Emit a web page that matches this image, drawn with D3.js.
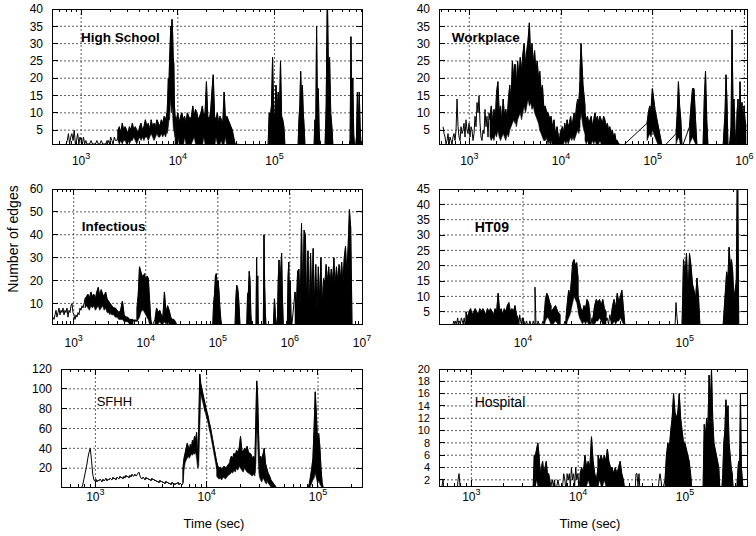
<!DOCTYPE html>
<html><head><meta charset="utf-8">
<script src="https://cdn.jsdelivr.net/npm/d3@7/dist/d3.min.js"></script>
<style>
body{margin:0;background:#fff}
svg{display:block}
text{font-family:"Liberation Sans",Arial,Helvetica,sans-serif;fill:#000}
</style>
</head><body>
<svg id="chart" width="756" height="536"></svg>
<script>
// ---------------- DATA ----------------
// Segments: [tStart (s), tEnd (s), values] for thin stretches, or
// [tStart, tEnd, upper values, lower values] for stretches where the trace is so dense it reads as a filled band.
const hsSegs = [
 [700, 1181, [1,2,4,1,3,4,2,5,1,2,4,1,3,2,1,3,1,2,1,1]],
 [1181, 1857, [1,1,2,1,1,1,2,1,1,2,1,1,1,2]],
 [1857, 2400, [1,2,1,3,2,1,3,2,2,3]],
 [2400, 7744, [5,6,4,7,5,6,5,4,6,5,7,5,6,5,4,6,7,5,6,8,6,7,5,8,6,7,6,8,7,6,8,7,9,8,10],
              [2,1,2,1,2,2,1,2,1,2,2,3,2,1,2,3,2,3,2,3,3,2,3,4,3,2,3,4,3,3,4,3,4,3,5]],
 [7744, 9367, [10,14,20,18,25,30,35,30,37,33,26,24,12,9], [4,5,6,8,8,12,14,10,12,10,6,5,4,3]],
 [9367, 39050, [9,8,10,7,9,10,8,9,7,10,9,8,9,12,9,11,10,8,9,10,12,9,10,19,9,8,10,16,21,9,8,10,7,9,8,7,16,8,9,8,7,6,5,3,1],
               [1,0,3,1,0,1,0,3,1,0,1,0,1,2,3,1,0,1,0,1,0,3,1,0,1,0,1,0,1,0,3,1,0,1,2,0,1,3,0,1,0,1,0,0,0]],
 [85660, 128400, [0,10,9,12,26,10,9,18,11,16,10,25,9,8,6,0], [0,0,1,0,1,0,1,0,1,0,1,0,1,0,0,0]],
 [175000, 206700, [0,8,12,22,14,18,10,6,0], 0],
 [256000, 295300, [0,8,6,35,12,17,5,0], 0],
 [332700, 402500, [0,12,45,22,26,10,6,0], 0],
 [603300, 802300, [0,32,10,20,4,0,0,3,16,6,16,6,0,0], 0]
];
const wpSegs = [
 [517, 1681, [6,4,3,1,2,4,1,3,2,1,3,4,2,5,14,6,3,2,6,4,5,7,3,8,5,4,7,3,6,5,2,4,9,6,13,10,15,7,3,2,5,4,11,6,9,3,10,8]],
 [1681, 3150, [9,12,7,11,8,16,19,10,12,7,14,9,11,8,14,18,13,25,20,24], [3,2,3,2,4,3,5,3,2,3,4,3,2,4,3,5,6,7,8,7]],
 [3150, 6692, [24,18,25,20,26,22,27,30,24,28,31,36,26,30,24,28,22,25,20,22,16,18,12,11],
              [8,6,8,9,10,8,10,12,10,12,14,12,13,11,12,10,9,8,7,5,4,3,2,2]],
 [6692, 9752, [12,11,10,10,9,8,9,7,6,8,5,4,6,4,3,2], [2,3,2,1,2,1,1,2,1,0,1,0,1,0,0,0]],
 [9752, 16120, [4,5,6,4,7,5,8,6,7,9,6,8,10,8,12,14,13,19], [0,1,0,1,2,1,2,1,2,3,2,3,2,3,4,5,4,6]],
 [16120, 18270, [22,30,24,18,15,12], [8,10,8,6,5,4]],
 [18270, 45100, [10,8,9,7,8,9,6,8,10,8,9,7,9,8,7,9,8,6,7,5,6,4,5,3,4,2,2,1,1,0],
                [2,1,2,1,0,1,2,1,2,1,0,1,2,1,0,1,0,1,0,1,0,0,0,0,0,0,0,0,0,0]],
 [86660, 129500, [7,10,12,11,17,14,11,9,7,5,3,1,0], [2,3,4,3,5,4,3,2,1,0,0,0,0]],
 [179600, 208700, [4,10,19,12,8,0], [1,2,3,2,0,0]],
 [251900, 304200, [6,12,17,17,8,0], [1,2,3,2,1,0]],
 [353700, 401000, [0,14,22,8,0], 0],
 [584300, 1041000, [0,5,10,21,13,0,0,2,6,34,12,14,5,0,10,14,3,19,8,13,5,12,8,6], 0]
];
const infSegs = [
 [516, 1435, [4,3,5,7,4,6,8,5,7,6,8,5,7,6,8,4,7,6,9,10,6,5,3,5,4,6,5,8,7,9,8,10,12]],
 [1435, 3190, [12,13,14,12,15,13,14,12,15,17,13,16,14,13,15,12,11,10], [8,9,8,7,9,8,9,7,8,9,7,8,9,7,8,6,6,5]],
 [3190, 6651, [10,9,8,8,7,6,7,11,5,4,4,3,3,3], [6,5,5,4,4,3,3,3,2,2,2,1,1,1]],
 [6651, 7555, [3,2,3,2,3]],
 [7555, 12210, [8,14,26,24,22,22,23,20,22,21,12,3,0], [2,3,4,6,7,7,6,5,4,3,1,0,0]],
 [13430, 27130, [3,8,6,7,5,4,15,6,9,7,4,3,3,2,0], [0,1,1,2,1,1,2,1,2,1,1,0,1,0,0]],
 [84870, 113200, [0,10,14,22,23,18,20,15,8,3,0], 0],
 [173100, 203000, [0,12,18,17,14,8,0], 0],
 [251500, 295100, [0,14,15,24,20,5,0], 0],
 [338500, 364400, [0,30,12,22,0], 0],
 [427400, 466000, [0,40,18,6,0], 0],
 [588500, 656100, [0,12,4,0], 0],
 [668800, 810000, [0,20,29,14,25,32,12,0], 0],
 [920600, 1059000, [0,22,28,10,20,5,0], 0],
 [1177000, 7270000, [15,8,24,25,6,45,12,42,40,8,33,6,32,10,34,8,27,6,26,10,30,8,21,18,27,19,26,18,25,19,30,18,26,19,27,20,28,19,30,35,22,35,51,43,0], 0]
];
const ht09Segs = [
 [3690, 4441, [1,2,1,2,1,3,1,2,1,3,2,1,3,1,2]],
 [4441, 9313, [5,3,5,6,4,5,6,5,4,6,5,6,5,4,6,5,6,5,4,6,5,11,5,6,4,6,5,7,8,5,6,5,7,4,3],
              [1,0,1,0,1,1,0,1,0,1,1,0,1,0,1,1,0,1,1,0,1,1,0,1,0,1,1,0,1,0,1,1,0,1,1]],
 [9313, 11860, [3,1,4,2,1,3,1,2,1,1,2,1,0,1,2,1,0,1,2,1,1]],
 [11860, 13490, [13,1,0,2,1,1,0,1,2,1]],
 [13490, 14900, [3,9,11,10,8,7], [0,2,3,3,2,1]],
 [14900, 16940, [5,6,7,5,4], [1,1,2,1,0]],
 [16940, 18450, [1,0,1,0,1,2,1]],
 [18450, 21890, [3,8,12,10,15,21,22,20,21,16], [0,2,3,4,6,8,10,9,8,6]],
 [21890, 25960, [10,8,6,5,7,6,9,8,4], [5,3,2,1,2,1,2,1,0]],
 [25960, 27100, [2,1,3,1]],
 [27100, 32610, [3,7,9,8,9,7,9,6,5], [0,1,2,2,3,2,1,1,0]],
 [32610, 35020, [2,3,1,4,2]],
 [35020, 42740, [3,7,9,6,11,8,10,12,6,0], [0,1,2,1,2,2,3,2,1,0]],
 [87100, 90910, [0,8,3,0]],
 [96230, 124300, [0,22,17,24,10,24,20,14,12,9,16,10,0], 0],
 [172600, 215800, [0,6,12,18,15,26,20,22,18,9,12,15,60,0], 0]
];
const sfhhSegs = [
 [753, 971, [0,4,10,16,22,30,36,40,28,14,8]],
 [971, 6124, [8,7,9,6,8,7,9,8,6,9,7,8,10,7,9,8,10,9,8,11,9,10,8,11,10,9,12,10,11,9,12,10,13,11,12,10,13,11,14,12,12,14,12,13,15,16,12,10,9,11,10,8,11,9,10,8,9,7,10,8,9,7,8,6,7,5,8,6,7,5,6,4,7,5,6,4,5,3,6,4,5,3,5,4,6,3,5,4,3,5]],
 [6124, 9654, [20,30,35,40,45,42,38,44,40,48,45,52,48,56,28,60,115,105,100,95,90,85],
              [5,18,25,28,30,32,30,32,34,33,35,34,36,30,20,22,60,95,90,86,81,77]],
 [9654, 12300, [85,80,76,72,66,62,56,50,44,38,32,26], [78,73,69,65,59,55,49,43,37,31,25,19]],
 [12300, 16200, [26,22,20,21,19,20,22,21,20,23,24,26], [12,10,9,10,8,10,11,9,10,12,13,14]],
 [16200, 27160, [28,32,30,35,33,38,36,40,52,38,36,40,38,42,36,35,34,30,32,28],
                [14,16,15,18,16,20,18,22,20,18,16,20,18,16,15,14,13,12,14,12]],
 [27160, 29690, [30,70,108,95,60,30], [15,25,60,50,25,14]],
 [29690, 34600, [28,32,30,34,40,25,20], [12,8,6,10,8,5,4]],
 [34600, 42560, [20,15,12,8,6,4,2,0], [8,5,3,1,0,0,0,0]],
 [81820, 111600, [0,5,12,20,30,60,97,75,45,55,42,20,5,0], [0,0,2,5,8,10,15,10,5,8,4,2,0,0]]
];
const hospSegs = [
 [520, 555, [0,1,2,0]],
 [735, 801, [0,2,3,1,0]],
 [3779, 5570, [0,6,6,7,8,6,3,4,5,3,4,5,3,3,2,0], [0,1,1,2,1,0,0,1,1,0,1,1,0,0,0,0]],
 [5570, 7697, [1,2,1,2,0,1,2,1,0,0,1,3,2,0]],
 [7697, 10410, [0,3,2,3,1,4,2,3,1,4,2,3,1,2]],
 [10410, 15340, [3,4,3,6,4,5,4,9,5,3,2,4], [1,1,1,1,1,2,1,1,1,1,0,1]],
 [15340, 20740, [6,5,6,5,6,5,7,5,4,4], [1,2,1,1,2,1,1,1,1,1]],
 [20740, 27450, [4,3,4,3,4,5,3,2,0], [1,1,1,1,1,1,1,0,0]],
 [34050, 37920, [0,3,3,1,3,0]],
 [55880, 60930, [0,2,3,2,0]],
 [65030, 116300, [2,6,8,7,10,12,16,13,12,13,16,12,10,8,8,7,6,5,3,0], 0],
 [147400, 212600, [0,11,9,12,10,19,14,20,12,8,7,6,5,4,0], 0],
 [220500, 283200, [0,3,8,10,15,12,14,8,6,4,3,0], 0],
 [304700, 351200, [0,3,5,3,16,4,2,0], 0]
];

const titles = ["High School", "Workplace", "Infectious", "HT09", "SFHH", "Hospital"];
const hsYTicks = [5,10,15,20,25,30,35,40];
const wpYTicks = [5,10,15,20,25,30,35,40];
const infYTicks = [10,20,30,40,50,60];
const ht09YTicks = [5,10,15,20,25,30,35,40,45];
const sfhhYTicks = [20,40,60,80,100,120];
const hospYTicks = [2,4,6,8,10,12,14,16,18,20];
const hsXTicks = [1e3,1e4,1e5];
const wpXTicks = [1e3,1e4,1e5,1e6];
const infXTicks = [1e3,1e4,1e5,1e6,1e7];
const ht09XTicks = [1e4,1e5];
const sfhhXTicks = [1e3,1e4,1e5];
const hospXTicks = [1e3,1e4,1e5];
const xAxisLabel = "Time (sec)";
const yAxisLabel = "Number of edges";

// ---------------- LAYOUT ----------------
const panels = [
 {segs:hsSegs,   title:titles[0], yT:hsYTicks,   xT:hsXTicks,   box:[52,9,362,144],   xd:[500,802300],   yd:[1,40],  tp:[81,41.7],    tf:13.5, tw:"bold",   lab:21, yf:12},
 {segs:wpSegs,   title:titles[1], yT:wpYTicks,   xT:wpXTicks,   box:[439,9,747,144],  xd:[467,1067000],  yd:[1,40],  tp:[451.7,41.7], tf:13.5, tw:"bold",   lab:21, yf:12},
 {segs:infSegs,  title:titles[2], yT:infYTicks,  xT:infXTicks,  box:[52,189,362,324], xd:[500,1e7],      yd:[1,60],  tp:[81.7,231],   tf:13.5, tw:"bold",   lab:23, yf:12},
 {segs:ht09Segs, title:titles[3], yT:ht09YTicks, xT:ht09XTicks, box:[439,189,747,324],xd:[3023,242800],  yd:[1,45],  tp:[474.7,231.7],tf:14,   tw:"bold",   lab:23, yf:12},
 {segs:sfhhSegs, title:titles[4], yT:sfhhYTicks, xT:sfhhXTicks, box:[61,369,362,487], xd:[491,248500],   yd:[1,120], tp:[96.7,405.7], tf:13,   tw:"normal", lab:14, yf:12},
 {segs:hospSegs, title:titles[5], yT:hospYTicks, xT:hospXTicks, box:[439,369,747,486],xd:[498,380400],   yd:[1,20],  tp:[474.7,406.7],tf:14,   tw:"normal", lab:15, yf:11}
];

function segPoints(seg){
  const [t0,t1,vals,lows] = seg;
  const n = vals.length;
  return vals.map((v,i) => {
    const t = n > 1 ? t0 * Math.pow(t1/t0, i/(n-1)) : t0;
    const lo = lows === undefined ? null : (Array.isArray(lows) ? lows[i] : lows);
    return {t, v, lo};
  });
}

const svg = d3.select("#chart");
svg.append("rect").attr("width",756).attr("height",536).attr("fill","#fff");

panels.forEach((p, k) => {
  const [l,t,r,b] = p.box;
  const x = d3.scaleLog().domain(p.xd).range([l,r]);
  const y = d3.scaleLinear().domain(p.yd).range([b,t]);
  const g = svg.append("g");

  // grid
  p.yT.forEach(v => {
    if (v < p.yd[1]) g.append("line").attr("x1",l).attr("x2",r).attr("y1",y(v)).attr("y2",y(v))
      .attr("stroke","#333").attr("stroke-width",0.8).attr("stroke-dasharray","2,2");
  });
  p.xT.forEach(v => {
    const xv = x(v);
    if (xv > l+1 && xv < r-1) g.append("line").attr("x1",xv).attr("x2",xv).attr("y1",t).attr("y2",b)
      .attr("stroke","#333").attr("stroke-width",0.8).attr("stroke-dasharray","2,2");
  });

  // data
  const cid = "clip"+k;
  svg.append("clipPath").attr("id",cid).append("rect").attr("x",l).attr("y",t).attr("width",r-l).attr("height",b-t);
  const dg = g.append("g").attr("clip-path","url(#"+cid+")");
  const area = d3.area().x(d => x(d.t)).y0(d => y(d.lo)).y1(d => y(d.v));
  const line = d3.line().x(d => x(d.t)).y(d => y(d.v));
  let all = [];
  p.segs.forEach(seg => {
    const pts = segPoints(seg);
    if (seg.length > 3) dg.append("path").datum(pts).attr("d",area).attr("fill","#000").attr("stroke","#000").attr("stroke-width",0.6);
    all = all.concat(pts);
  });
  dg.append("path").datum(all).attr("d",line).attr("fill","none").attr("stroke","#000")
    .attr("stroke-width",1).attr("stroke-linejoin","round");

  // ticks
  const tk = g.append("g").attr("stroke","#000").attr("stroke-width",1).attr("shape-rendering","crispEdges");
  const lo = Math.floor(Math.log10(p.xd[0])), hi = Math.ceil(Math.log10(p.xd[1]));
  for (let e = lo; e <= hi; e++) {
    for (let m = 1; m <= 9; m++) {
      const v = m * Math.pow(10, e);
      if (v < p.xd[0] || v > p.xd[1]) continue;
      const xv = x(v), len = m === 1 ? 6 : 3;
      tk.append("line").attr("x1",xv).attr("x2",xv).attr("y1",b).attr("y2",b-len);
      tk.append("line").attr("x1",xv).attr("x2",xv).attr("y1",t).attr("y2",t+len);
    }
  }
  p.yT.forEach(v => {
    tk.append("line").attr("x1",l).attr("x2",l+6).attr("y1",y(v)).attr("y2",y(v));
    tk.append("line").attr("x1",r).attr("x2",r-6).attr("y1",y(v)).attr("y2",y(v));
  });

  // frame
  g.append("rect").attr("x",l).attr("y",t).attr("width",r-l).attr("height",b-t)
    .attr("fill","none").attr("stroke","#000").attr("stroke-width",1).attr("shape-rendering","crispEdges");

  // y tick labels
  p.yT.forEach(v => {
    g.append("text").attr("x",l-9).attr("y",y(v)).attr("dy","0.35em")
      .attr("text-anchor","end").attr("font-size",p.yf).text(v);
  });
  // x tick labels
  p.xT.forEach(v => {
    const tx = g.append("text").attr("x",x(v)).attr("y",b+p.lab)
      .attr("text-anchor","middle").attr("font-size",12);
    tx.append("tspan").text("10");
    tx.append("tspan").attr("dy",-6).attr("font-size",9).text(Math.round(Math.log10(v)));
  });
  // title
  g.append("text").attr("x",p.tp[0]).attr("y",p.tp[1]).attr("font-size",p.tf)
    .attr("font-weight",p.tw).text(p.title);
});

svg.append("text").attr("transform","translate(13.5,239) rotate(-90)").attr("dy","0.35em")
  .attr("text-anchor","middle").attr("font-size",14).text(yAxisLabel);
svg.append("text").attr("x",214).attr("y",528).attr("text-anchor","middle").attr("font-size",13).text(xAxisLabel);
svg.append("text").attr("x",590).attr("y",528).attr("text-anchor","middle").attr("font-size",13).text(xAxisLabel);
</script>
</body></html>
